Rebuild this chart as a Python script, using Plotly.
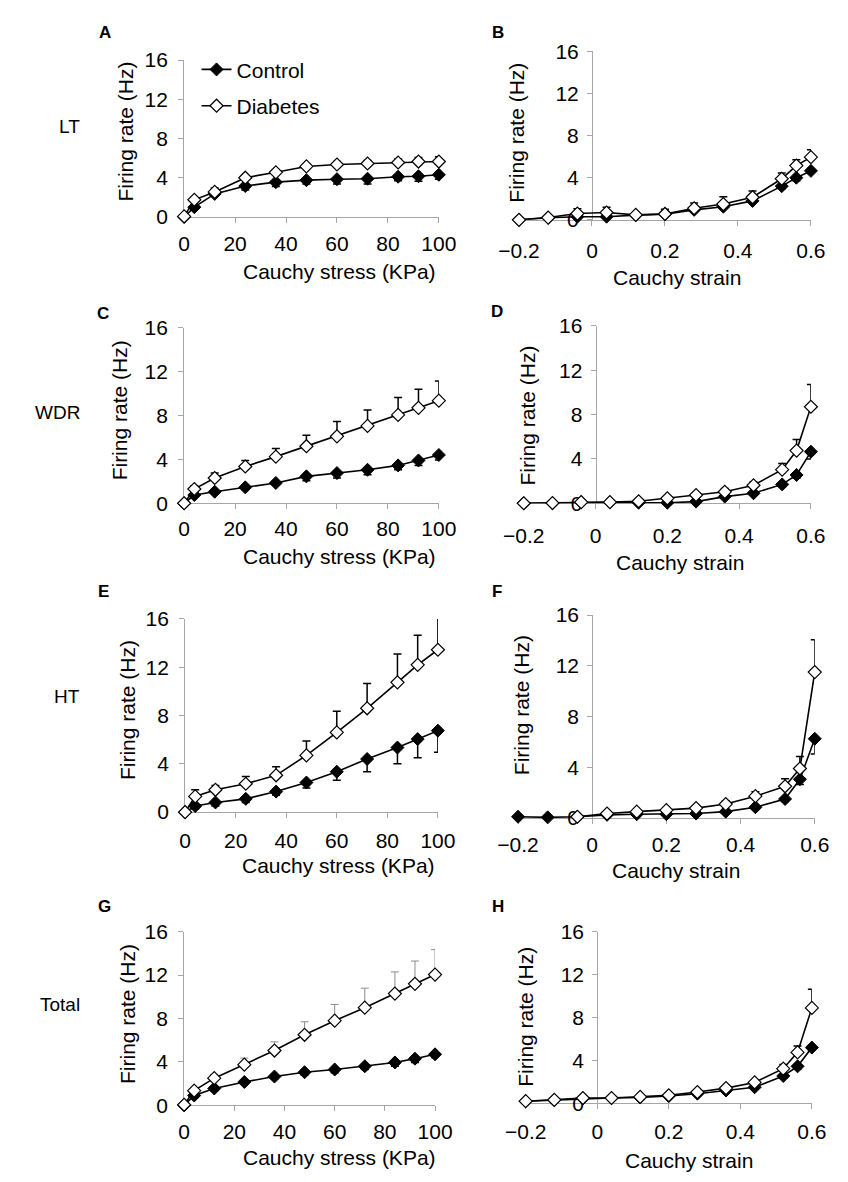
import plotly.graph_objects as go

W, H = 848, 1182
FONT = "Liberation Sans, Arial, sans-serif"

# ---------------- data ----------------
stress = [0, 4, 12, 24, 36, 48, 60, 72, 84, 92, 100]
strain = [-0.2, -0.12, -0.04, 0.04, 0.12, 0.2, 0.28, 0.36, 0.44, 0.52, 0.56, 0.6]

# A: LT vs stress
lt_stress_ctrl = [0, 1.0, 2.35, 3.15, 3.55, 3.75, 3.85, 3.9, 4.1, 4.15, 4.3]
lt_stress_ctrl_err = [0, 0.2, 0.2, 0.4, 0.45, 0.4, 0.5, 0.55, 0.4, 0.5, 0.45]
lt_stress_diab = [0.05, 1.75, 2.55, 4.0, 4.55, 5.15, 5.35, 5.45, 5.55, 5.65, 5.65]
lt_stress_diab_err = [0, 0.2, 0.4, 0.25, 0.25, 0.25, 0.3, 0.3, 0.35, 0.4, 0.5]

# B: LT vs strain
lt_strain_ctrl = [0, 0.2, 0.3, 0.3, 0.45, 0.55, 0.95, 1.25, 1.8, 3.2, 4.0, 4.65]
lt_strain_ctrl_err = [0, 0, 0.1, 0.1, 0.1, 0.1, 0.1, 0.15, 0.15, 0.25, 0.3, 0.25]
lt_strain_diab = [0, 0.22, 0.6, 0.7, 0.47, 0.56, 1.1, 1.5, 2.15, 3.9, 5.15, 5.95]
lt_strain_diab_err = [0, 0, 0.45, 0.5, 0.1, 0.45, 0.5, 0.7, 0.6, 0.55, 0.55, 0.7]

# C: WDR vs stress
wdr_stress_ctrl = [0, 0.75, 1.05, 1.45, 1.85, 2.45, 2.75, 3.05, 3.45, 3.9, 4.4]
wdr_stress_ctrl_err = [0, 0.15, 0.15, 0.2, 0.2, 0.4, 0.45, 0.45, 0.4, 0.45, 0.45]
wdr_stress_diab = [0, 1.3, 2.3, 3.35, 4.25, 5.2, 6.1, 7.05, 8.05, 8.7, 9.35]
wdr_stress_diab_err = [0, 0.3, 0.45, 0.55, 0.75, 1.0, 1.35, 1.45, 1.6, 1.7, 1.8]

# D: WDR vs strain
wdr_strain_ctrl = [0, 0.02, 0.1, 0.08, 0.05, 0.05, 0.15, 0.6, 0.9, 1.7, 2.55, 4.65]
wdr_strain_ctrl_err = [0, 0, 0, 0, 0, 0, 0.05, 0.1, 0.15, 0.2, 0.3, 0.65]
wdr_strain_diab = [0, 0.02, 0.1, 0.1, 0.18, 0.44, 0.74, 1.03, 1.62, 3.03, 4.75, 8.7]
wdr_strain_diab_err = [0, 0, 0, 0, 0.05, 0.1, 0.2, 0.3, 0.3, 0.55, 1.0, 2.0]

# E: HT vs stress
ht_stress_ctrl = [0, 0.5, 0.8, 1.1, 1.7, 2.45, 3.35, 4.4, 5.35, 6.05, 6.75]
ht_stress_ctrl_err = [0, 0.25, 0.3, 0.3, 0.3, 0.45, 0.7, 1.05, 1.35, 1.55, 1.8]
ht_stress_diab = [0, 1.3, 1.85, 2.35, 3.05, 4.7, 6.6, 8.6, 10.75, 12.2, 13.45]
ht_stress_diab_err = [0, 0.55, 0.35, 0.6, 0.7, 1.2, 1.75, 2.05, 2.35, 2.45, 2.7]

# F: HT vs strain
ht_strain_ctrl = [0.1, 0.05, 0.1, 0.25, 0.3, 0.3, 0.35, 0.5, 0.85, 1.5, 3.05, 6.25]
ht_strain_ctrl_err = [0, 0, 0, 0, 0, 0, 0.05, 0.1, 0.15, 0.2, 0.4, 1.2]
ht_strain_diab = [None, None, 0.1, 0.35, 0.5, 0.62, 0.78, 1.1, 1.72, 2.5, 3.9, 11.5]
ht_strain_diab_err = [0, 0, 0, 0.05, 0.1, 0.1, 0.15, 0.25, 0.35, 0.6, 0.95, 2.55]

# G: Total vs stress
tot_stress_ctrl = [0, 0.9, 1.55, 2.15, 2.65, 3.05, 3.3, 3.6, 3.95, 4.3, 4.7]
tot_stress_ctrl_err = [0, 0.2, 0.2, 0.2, 0.2, 0.25, 0.3, 0.3, 0.35, 0.35, 0.3]
tot_stress_diab = [0.05, 1.35, 2.5, 3.75, 5.05, 6.5, 7.8, 9.0, 10.3, 11.2, 12.05]
tot_stress_diab_err = [0, 0.3, 0.35, 0.6, 0.8, 1.2, 1.5, 1.8, 2.0, 2.1, 2.3]

# H: Total vs strain
tot_strain_ctrl = [0.2, 0.3, 0.45, 0.5, 0.55, 0.68, 0.9, 1.2, 1.5, 2.55, 3.45, 5.2]
tot_strain_ctrl_err = [0, 0, 0, 0, 0, 0.05, 0.1, 0.1, 0.15, 0.2, 0.25, 0.3]
tot_strain_diab = [0.2, 0.33, 0.5, 0.5, 0.6, 0.75, 1.05, 1.42, 1.95, 3.23, 4.75, 8.9]
tot_strain_diab_err = [0, 0, 0.05, 0.05, 0.05, 0.1, 0.1, 0.15, 0.2, 0.4, 0.6, 1.75]

row_labels = ["LT", "WDR", "HT", "Total"]
panel_letters = ["A", "B", "C", "D", "E", "F", "G", "H"]
y_ticks = [0, 4, 8, 12, 16]
stress_ticks = [0, 20, 40, 60, 80, 100]
strain_ticks = [-0.2, 0, 0.2, 0.4, 0.6]

panels = [
    ("stress", lt_stress_ctrl, lt_stress_ctrl_err, lt_stress_diab, lt_stress_diab_err),
    ("strain", lt_strain_ctrl, lt_strain_ctrl_err, lt_strain_diab, lt_strain_diab_err),
    ("stress", wdr_stress_ctrl, wdr_stress_ctrl_err, wdr_stress_diab, wdr_stress_diab_err),
    ("strain", wdr_strain_ctrl, wdr_strain_ctrl_err, wdr_strain_diab, wdr_strain_diab_err),
    ("stress", ht_stress_ctrl, ht_stress_ctrl_err, ht_stress_diab, ht_stress_diab_err),
    ("strain", ht_strain_ctrl, ht_strain_ctrl_err, ht_strain_diab, ht_strain_diab_err),
    ("stress", tot_stress_ctrl, tot_stress_ctrl_err, tot_stress_diab, tot_stress_diab_err),
    ("strain", tot_strain_ctrl, tot_strain_ctrl_err, tot_strain_diab, tot_strain_diab_err),
]

# ---------------- layout geometry (pixels) ----------------
# plot areas: (left, right, top, bottom)
boxes = [
    (171, 438, 49, 209), (522, 828, 40, 212),
    (171, 438, 322, 501), (527, 828, 320, 501),
    (172, 437, 619, 816), (521, 832, 615, 822),
    (171, 434, 938, 1115), (529, 829, 938, 1113),
]
xtick_standoff = [3, 7, 2, 9, 5, 3, 2, 4]
letter_pos = [(88, 21), (500, 21), (86, 307), (499, 305), (87, 591), (499, 591), (88, 912), (500, 912)]
ytitle_pos = [(110, 122), (520, 123), (103, 406), (531, 412), (111, 712), (524, 707), (111, 1022), (528, 1025)]
xtitle_pos = [(334, 265), (688, 271), (334, 555), (691, 561), (333, 870), (687, 876), (334, 1168), (700, 1171)]
row_pos = [(64, 117), (64, 408), (64, 698), (64, 1012)]

AX_GRAY = "#A6A6A6"

def fx(px):
    return px / W

def fy(py):
    return 1 - py / H

fig = go.Figure()
layout = {}
annotations = []

for i, (kind, c, ce, d, de) in enumerate(panels):
    n = i + 1
    xref = "x" if n == 1 else f"x{n}"
    yref = "y" if n == 1 else f"y{n}"
    xs = stress if kind == "stress" else strain
    err_col_d = "#8C8C8C" if i == 6 else "black"
    err_w_d = 1 if i == 6 else 1.5
    fig.add_trace(go.Scatter(
        x=xs, y=c, mode="lines+markers", name="Control",
        xaxis=xref, yaxis=yref, showlegend=(i == 0), legendgroup="c",
        line=dict(color="black", width=1.6),
        marker=dict(symbol="diamond", size=10, color="black", line=dict(color="black", width=1)),
        error_y=dict(type="data", symmetric=False, array=[0] * len(ce), arrayminus=ce,
                     color="black", thickness=1.5, width=4),
        cliponaxis=False,
    ))
    fig.add_trace(go.Scatter(
        x=xs, y=d, mode="lines+markers", name="Diabetes",
        xaxis=xref, yaxis=yref, showlegend=(i == 0), legendgroup="d",
        line=dict(color="black", width=1.6),
        marker=dict(symbol="diamond", size=10, color="white", line=dict(color="black", width=1.2)),
        error_y=dict(type="data", symmetric=False, array=de, arrayminus=[0] * len(de),
                     color=err_col_d, thickness=err_w_d, width=4),
        cliponaxis=False, connectgaps=False,
    ))

    l, r, t, b = boxes[i]
    xname = "xaxis" if n == 1 else f"xaxis{n}"
    yname = "yaxis" if n == 1 else f"yaxis{n}"
    common = dict(showline=True, linecolor=AX_GRAY, linewidth=1, ticks="outside",
                  ticklen=5, tickcolor=AX_GRAY, tickwidth=1, showgrid=False, zeroline=False,
                  tickfont=dict(family=FONT, size=21, color="black"), layer="below traces")
    if kind == "stress":
        layout[xname] = dict(domain=[fx(l), fx(r)], range=[0, 100], tickvals=stress_ticks,
                             anchor=yref, ticklabelstandoff=xtick_standoff[i], **common)
        layout[yname] = dict(domain=[fy(b), fy(t)], range=[0, 16], tickvals=y_ticks,
                             anchor=xref, ticklabelstandoff=6, **common)
    else:
        x0_px = l + (r - l) * 0.25
        layout[xname] = dict(domain=[fx(l), fx(r)], range=[-0.2, 0.6], tickvals=strain_ticks,
                             anchor=yref, ticklabelstandoff=xtick_standoff[i], **common)
        layout[yname] = dict(domain=[fy(b), fy(t)], range=[0, 16], tickvals=y_ticks,
                             anchor="free", position=fx(x0_px), ticklabelstandoff=4, **common)

    lx, ly = letter_pos[i]
    annotations.append(dict(text=f"<b>{panel_letters[i]}</b>", x=fx(lx), y=fy(ly), xref="paper", yref="paper",
                            showarrow=False, xanchor="center", yanchor="middle",
                            font=dict(family=FONT, size=17, color="black")))
    tx, ty = ytitle_pos[i]
    annotations.append(dict(text="Firing rate (Hz)", x=fx(tx), y=fy(ty), xref="paper", yref="paper",
                            showarrow=False, textangle=-90, xanchor="center", yanchor="middle",
                            font=dict(family=FONT, size=21, color="black")))
    sx, sy = xtitle_pos[i]
    annotations.append(dict(text="Cauchy stress (KPa)" if kind == "stress" else "Cauchy strain",
                            x=fx(sx), y=fy(sy), xref="paper", yref="paper",
                            showarrow=False, xanchor="center", yanchor="middle",
                            font=dict(family=FONT, size=21, color="black")))

for lab, (rx, ry) in zip(row_labels, row_pos):
    annotations.append(dict(text=lab, x=fx(rx), y=fy(ry), xref="paper", yref="paper",
                            showarrow=False, xanchor="right", yanchor="middle",
                            font=dict(family=FONT, size=19, color="black")))

fig.update_layout(
    width=W, height=H, margin=dict(l=0, r=0, t=0, b=0),
    paper_bgcolor="white", plot_bgcolor="white",
    font=dict(family=FONT, size=20, color="black"),
    showlegend=True,
    legend=dict(x=fx(184), y=fy(38), xanchor="left", yanchor="top",
                bgcolor="rgba(0,0,0,0)", font=dict(family=FONT, size=21, color="black"),
                tracegroupgap=6, itemwidth=30),
    annotations=annotations,
    **layout,
)

fig.write_html(
    "out.html",
    config={"displayModeBar": False},
    post_script="document.body.style.margin='0px';document.body.style.overflow='hidden';",
)
